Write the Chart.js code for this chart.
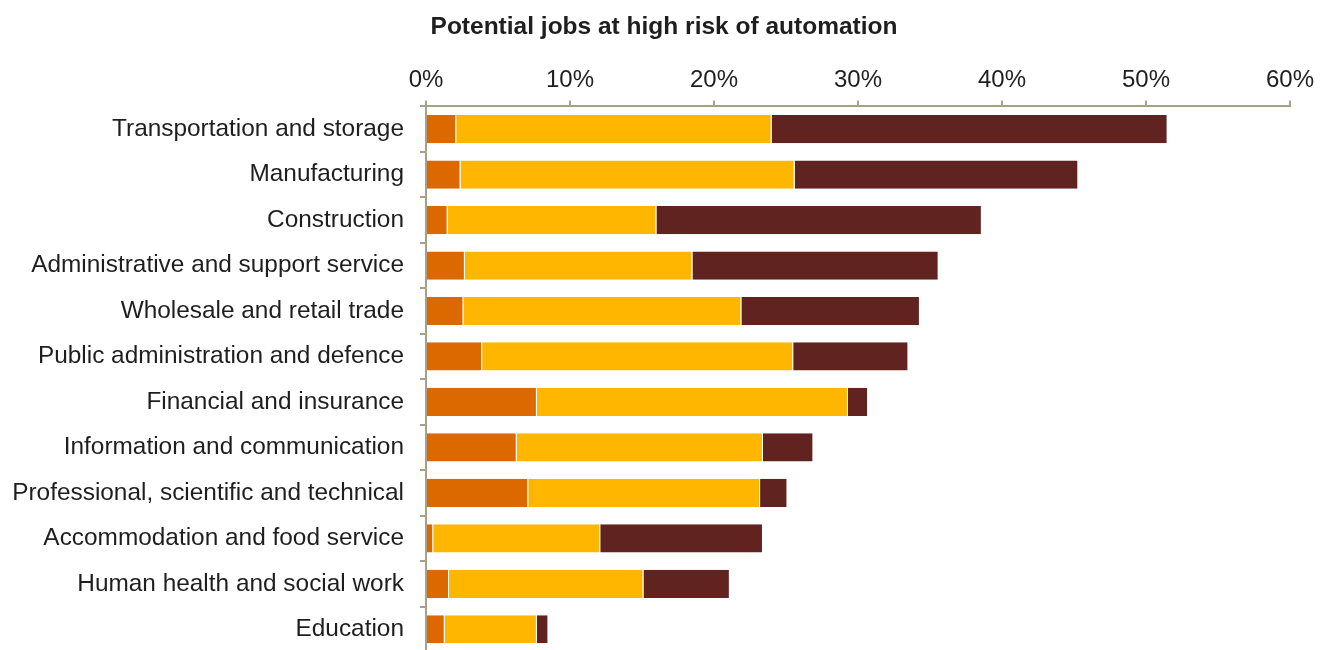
<!DOCTYPE html>
<html>
<head>
<meta charset="utf-8">
<script src="https://cdn.jsdelivr.net/npm/chart.js@4/dist/chart.umd.min.js"></script>
<style>
  html, body { margin: 0; padding: 0; background: #fff; overflow: hidden; }
  #wrap { width: 1328px; height: 650px; overflow: hidden; }
</style>
</head>
<body>
<div id="wrap"><canvas id="chart" width="1328" height="652"></canvas></div>
<script>
// sectors, top to bottom
const sectors = [
    'Transportation and storage',
    'Manufacturing',
    'Construction',
    'Administrative and support service',
    'Wholesale and retail trade',
    'Public administration and defence',
    'Financial and insurance',
    'Information and communication',
    'Professional, scientific and technical',
    'Accommodation and food service',
    'Human health and social work',
    'Education'
];

// share of jobs at high risk, %
const wave1 = [2.1, 2.4, 1.5, 2.7, 2.6, 3.9, 7.7, 6.3, 7.1, 0.5, 1.6, 1.3];
const wave2 = [21.9, 23.2, 14.5, 15.8, 19.3, 21.6, 21.6, 17.1, 16.1, 11.6, 13.5, 6.4];
const wave3 = [27.5, 19.7, 22.6, 17.1, 12.4, 8.0, 1.4, 3.5, 1.9, 11.3, 6.0, 0.8];

const xTicks = [0, 10, 20, 30, 40, 50, 60];

const axisColor = '#a8a18a';
const textColor = '#1e1e1e';
const FONT = "'Liberation Sans', Arial, sans-serif";

function mkSet(label, values, color) {
    return {
        label: label,
        data: values,
        backgroundColor: color,
        borderColor: 'rgba(255,255,255,0.85)',
        borderWidth: { top: 0, bottom: 0, left: 0, right: 1 },
        borderSkipped: false,
        barPercentage: 0.62,
        categoryPercentage: 1.0
    };
}

const ctx = document.getElementById('chart').getContext('2d');

new Chart(ctx, {
    type: 'bar',
    data: {
        labels: sectors,
        datasets: [
            mkSet('Algorithm wave', wave1, '#dc6900'),
            mkSet('Augmentation wave', wave2, '#ffb600'),
            mkSet('Autonomy wave', wave3, '#602320')
        ]
    },
    options: {
        indexAxis: 'y',
        responsive: false,
        animation: false,
        layout: { padding: 0 },
        plugins: {
            legend: { display: false },
            tooltip: { enabled: false },
            title: {
                display: true,
                text: 'Potential jobs at high risk of automation',
                color: textColor,
                font: { family: FONT, size: 24.5, weight: 'bold' },
                padding: { top: 13, bottom: 3 }
            }
        },
        scales: {
            x: {
                position: 'top',
                stacked: true,
                min: 0,
                max: 60,
                afterBuildTicks: (s) => { s.ticks = xTicks.map(v => ({ value: v })); },
                afterFit: (s) => { s.height = 61; s.paddingLeft = 0; s.paddingRight = 38; },
                border: { display: true, color: axisColor, width: 2 },
                grid: { drawOnChartArea: false, drawTicks: true, tickLength: 6, color: axisColor, lineWidth: 2 },
                ticks: {
                    color: textColor,
                    padding: 6,
                    font: { family: FONT, size: 24 },
                    callback: (v) => v + '%'
                }
            },
            y: {
                stacked: true,
                afterFit: (s) => { s.width = 426; s.paddingTop = 0; s.paddingBottom = 0; },
                border: { display: true, color: axisColor, width: 2 },
                grid: { drawOnChartArea: false, drawTicks: true, tickLength: 6, color: axisColor, lineWidth: 2, offset: true },
                ticks: {
                    color: textColor,
                    padding: 16,
                    font: { family: FONT, size: 24.4 }
                }
            }
        }
    }
});
</script>
</body>
</html>
